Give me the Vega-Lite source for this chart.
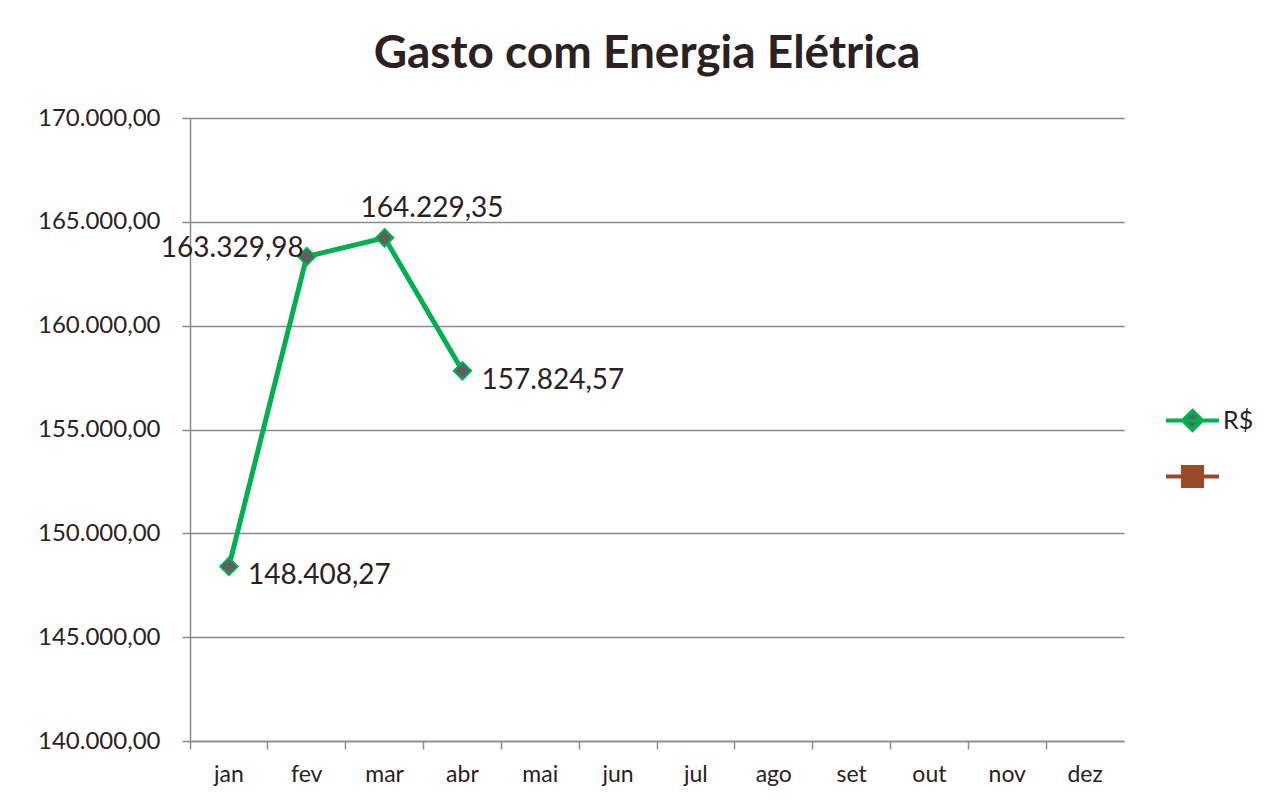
{
  "$schema": "https://vega.github.io/schema/vega-lite/v6.json",
  "width": 934,
  "height": 623,
  "autosize": {"type": "none"},
  "padding": {"left": 190, "top": 118, "right": 143, "bottom": 63},
  "background": "white",
  "title": {
    "text": "Gasto com Energia Elétrica",
    "font": "Lato",
    "fontSize": 46,
    "fontWeight": "bold",
    "color": "#2b2122",
    "anchor": "middle",
    "dx": -10,
    "offset": 28
  },
  "config": {
    "locale": {
      "number": {"decimal": ",", "thousands": ".", "grouping": [3], "currency": ["R$", ""]}
    },
    "view": {"stroke": null},
    "font": "Lato"
  },
  "data": {
    "values": [
      {"mes": "jan", "valor": 148408.27},
      {"mes": "fev", "valor": 163329.98},
      {"mes": "mar", "valor": 164229.35},
      {"mes": "abr", "valor": 157824.57}
    ]
  },
  "encoding": {
    "x": {
      "field": "mes",
      "type": "ordinal",
      "sort": null,
      "scale": {
        "type": "band",
        "domain": ["jan", "fev", "mar", "abr", "mai", "jun", "jul", "ago", "set", "out", "nov", "dez"],
        "paddingInner": 0,
        "paddingOuter": 0
      },
      "axis": {
        "title": null,
        "labelAngle": 0,
        "labelFont": "Lato",
        "labelFontSize": 23,
        "labelColor": "#2b2122",
        "labelPadding": 14,
        "tickSize": 8,
        "tickColor": "#8a8a8a",
        "tickWidth": 1.5,
        "domainColor": "#8a8a8a",
        "domainWidth": 1.5,
        "bandPosition": 0,
        "grid": false
      }
    },
    "y": {
      "field": "valor",
      "type": "quantitative",
      "scale": {"domain": [140000, 170000], "nice": false, "zero": false},
      "axis": {
        "title": null,
        "values": [140000, 145000, 150000, 155000, 160000, 165000, 170000],
        "format": ",.2f",
        "labelFont": "Lato",
        "labelFontSize": 24,
        "labelColor": "#2b2122",
        "labelPadding": 22,
        "tickSize": 8,
        "tickColor": "#8a8a8a",
        "tickWidth": 1.5,
        "domainColor": "#8a8a8a",
        "domainWidth": 1.5,
        "grid": true,
        "gridColor": "#8a8a8a",
        "gridWidth": 1.5
      }
    }
  },
  "layer": [
    {
      "mark": {"type": "line", "strokeWidth": 5},
      "encoding": {
        "color": {
          "datum": "R$",
          "type": "nominal",
          "scale": {"domain": ["R$", "s2"], "range": ["#00b050", "#9a4a2a"]},
          "legend": {
            "title": null,
            "orient": "none",
            "legendX": 974,
            "legendY": 274,
            "symbolType": "M-1,0L1,0",
            "symbolSize": 2809,
            "symbolStrokeWidth": 4,
            "rowPadding": 9,
            "labelFont": "Lato",
            "labelFontSize": 25,
            "labelColor": "#2b2122",
            "labelOffset": 2,
            "labelExpr": "datum.value == 'R$' ? 'R$' : ''",
            "encode": {
              "symbols": {
                "update": {
                  "shape": {"signal": "datum.value == 'R$' ? 'M-1,0L1,0M0,-0.36L0.36,0L0,0.36L-0.36,0Z' : 'M-1,0L1,0M-0.36,-0.36L0.36,-0.36L0.36,0.36L-0.36,0.36Z'"},
                  "fill": {"signal": "datum.value == 'R$' ? '#5f5f5f' : '#9a4a2a'"},
                  "stroke": {"signal": "datum.value == 'R$' ? '#00b050' : '#9a4a2a'"},
                  "strokeWidth": {"value": 4},
                  "opacity": {"value": 1}
                }
              }
            }
          }
        }
      }
    },
    {
      "mark": {"type": "point", "shape": "diamond", "size": 300, "filled": true, "fill": "#5f5f5f", "stroke": "#00b050", "strokeWidth": 2, "opacity": 1}
    },
    {
      "transform": [{"filter": "datum.mes == 'jan' || datum.mes == 'abr'"}],
      "mark": {"type": "text", "align": "left", "baseline": "middle", "font": "Lato", "fontSize": 28, "color": "#2b2122", "dx": 19, "dy": 10},
      "encoding": {"text": {"field": "valor", "type": "quantitative", "format": ",.2f"}}
    },
    {
      "transform": [{"filter": "datum.mes == 'fev'"}],
      "mark": {"type": "text", "align": "right", "baseline": "middle", "font": "Lato", "fontSize": 28, "color": "#2b2122", "dx": -3, "dy": -8},
      "encoding": {"text": {"field": "valor", "type": "quantitative", "format": ",.2f"}}
    },
    {
      "transform": [{"filter": "datum.mes == 'mar'"}],
      "mark": {"type": "text", "align": "left", "baseline": "middle", "font": "Lato", "fontSize": 28, "color": "#2b2122", "dx": -24, "dy": -29},
      "encoding": {"text": {"field": "valor", "type": "quantitative", "format": ",.2f"}}
    }
  ]
}
